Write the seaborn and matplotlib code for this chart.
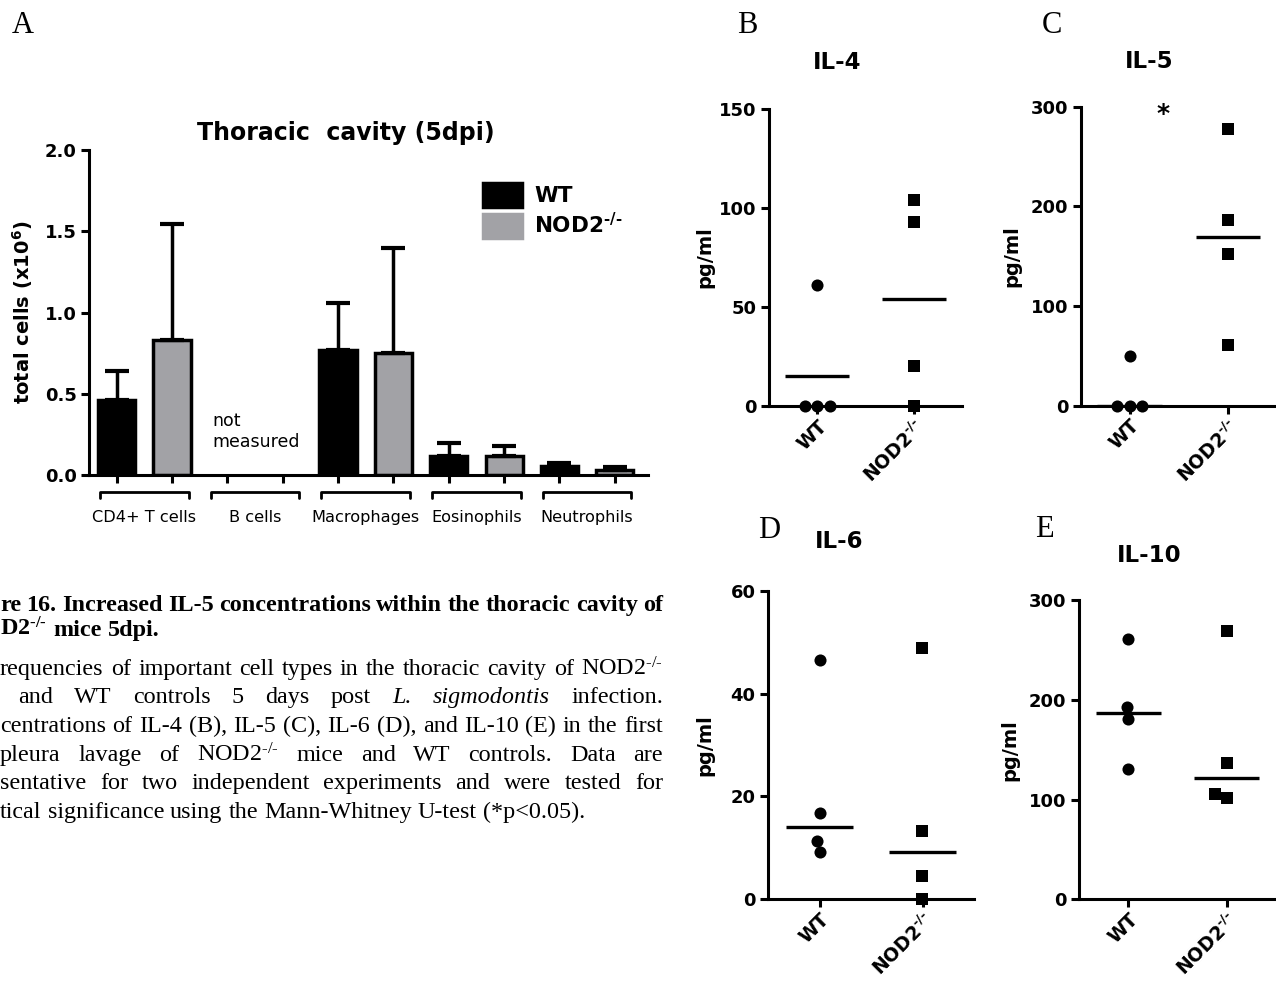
#!/usr/bin/env python3
"""Thoracic cavity cell counts and pleural cytokines, WT vs NOD2-/- mice at 5 dpi."""

import matplotlib
matplotlib.use("Agg")
import matplotlib.pyplot as plt
import matplotlib.transforms as mtransforms
from matplotlib.ticker import FormatStrFormatter
import numpy as np
import pandas as pd
import seaborn as sns

# panel A: total cells (x10^6), mean and SD; B cells were not measured
cell_types = ["CD4+ T cells", "B cells", "Macrophages", "Eosinophils", "Neutrophils"]
measured_types = ["CD4+ T cells", "Macrophages", "Eosinophils", "Neutrophils"]
groups = ["WT", "NOD2"]
wt_mean = [0.46, 0.77, 0.12, 0.055]
wt_sd = [0.18, 0.29, 0.075, 0.018]
ko_mean = [0.83, 0.75, 0.12, 0.03]
ko_sd = [0.715, 0.65, 0.06, 0.02]

# panels B-E: cytokines in the first pleura lavage (pg/ml), one value per mouse
il4_wt = [61, 0, 0, 0]
il4_ko = [104, 93, 20, 0]
il4_lines = [15, 54]
il5_wt = [50, 0, 0, 0]
il5_ko = [278, 186, 152, 61]
il5_lines = [0, 169]
il6_wt = [46.5, 16.7, 11.4, 9.1]
il6_ko = [48.8, 13.2, 4.6, 0]
il6_lines = [14.1, 9.1]
il10_wt = [261, 193, 181, 131]
il10_ko = [269, 137, 102, 106]
il10_lines = [187, 122]

bar_colors = {"WT": "black", "NOD2": "#a2a2a6"}

# "-/-" as raised hyphens (a plain "-" in mathtext becomes a spaced minus)
KO = "NOD2$\\mathregular{^{\u2010/\u2010}}$"
group_labels = ["WT", KO]

caption = [
    ("re 16. Increased IL-5 concentrations within the thoracic cavity of", "bold", True),
    ("D2$\\mathregular{^{\u2010/\u2010}}$ mice 5dpi.", "bold", False),
    ("requencies of important cell types in the thoracic cavity of " + KO, "normal", True),
    ("and WT controls 5 days post L. sigmodontis infection.", "normal", True),
    ("centrations of IL-4 (B), IL-5 (C), IL-6 (D), and IL-10 (E) in the first", "normal", True),
    ("pleura lavage of " + KO + " mice and WT controls. Data are", "normal", True),
    ("sentative for two independent experiments and were tested for", "normal", True),
    ("tical significance using the Mann-Whitney U-test (*p<0.05).", "normal", False),
]
italic_words = {"L.", "sigmodontis"}

W, H = 1276, 986


def setup_style():
    sns.set_theme(style="ticks")
    plt.rcParams["font.family"] = ["DejaVu Sans"]
    plt.rcParams.update({
        "font.weight": "bold",
        "text.color": "black",
        "axes.edgecolor": "black",
        "axes.labelcolor": "black",
        "axes.linewidth": 2.2,
        "xtick.color": "black",
        "ytick.color": "black",
        "xtick.major.width": 2.2,
        "ytick.major.width": 2.2,
        "xtick.major.size": 5.5,
        "ytick.major.size": 5.5,
        "xtick.labelsize": 13,
        "ytick.labelsize": 13,
    })


fig = None


def box(left, top, right, bottom):
    return fig.add_axes([left / W, 1 - bottom / H, (right - left) / W, (bottom - top) / H])


def ftext(x, y, s, **kw):
    return fig.text(x / W, 1 - y / H, s, **kw)


def render_cells():
    ax = box(89.3, 150, 648, 475)
    bars = pd.DataFrame({
        "cell": measured_types * 2,
        "group": ["WT"] * len(wt_mean) + ["NOD2"] * len(ko_mean),
        "mean": wt_mean + ko_mean,
        "sd": wt_sd + ko_sd,
    })
    sns.barplot(
        data=bars, x="cell", y="mean", hue="group",
        order=cell_types, hue_order=groups,
        palette=bar_colors, saturation=1,
        errorbar=None, width=1.0, gap=0.33,
        edgecolor="black", linewidth=2.5, ax=ax,
    )

    # one-sided SD bars on top of each drawn bar
    xs, ys, es = [], [], []
    for p in ax.patches:
        if p.get_height() <= 0:
            continue
        cx = p.get_x() + p.get_width() / 2
        cell = cell_types[int(round(cx))]
        grp = "WT" if cx < round(cx) else "NOD2"
        row = bars[(bars["cell"] == cell) & (bars["group"] == grp)].iloc[0]
        xs.append(cx)
        ys.append(row["mean"])
        es.append(row["sd"])
    ax.errorbar(xs, ys, yerr=[np.zeros(len(es)), es], fmt="none", ecolor="black",
                elinewidth=2.5, capsize=8.5, capthick=3, zorder=1)

    centers = np.arange(len(cell_types))
    ax.set_xticks(np.sort(np.concatenate([centers - 0.25, centers + 0.25])))
    ax.set_xticklabels([])
    ax.set_xlim(-0.497, 4.55)
    ax.set_ylim(0, 2)
    ax.set_yticks([0, 0.5, 1.0, 1.5, 2.0])
    ax.yaxis.set_major_formatter(FormatStrFormatter("%.1f"))
    ax.set_xlabel("")
    ax.set_ylabel("")
    sns.despine(ax=ax)

    trans = mtransforms.blended_transform_factory(ax.transData, ax.transAxes)
    for i, name in enumerate(cell_types):
        ax.plot([i - 0.4, i - 0.4, i + 0.4, i + 0.4], [-0.072, -0.052, -0.052, -0.072],
                transform=trans, clip_on=False, color="black", lw=2)
        ax.text(i, -0.132, name, transform=trans, ha="center", va="center",
                fontsize=11.6, fontweight="normal")

    ax.text(0.612, 0.27, "not\nmeasured", ha="left", va="center", fontsize=12.5,
            fontweight="normal", linespacing=1.2)

    sns.move_legend(
        ax, "upper left", bbox_to_anchor=(483.3 / W, 1 - 183.3 / H),
        bbox_transform=fig.transFigure, title=None, frameon=False,
        fontsize=15.5, handlelength=1.8, handleheight=1.3, labelspacing=0.25,
        handletextpad=0.57, borderpad=0, borderaxespad=0,
    )
    leg = ax.get_legend()
    for txt, lab in zip(leg.get_texts(), group_labels):
        txt.set_text(lab)
        txt.set_fontweight("bold")
    for handle, grp in zip(leg.legend_handles, groups):
        handle.set_edgecolor(bar_colors[grp])

    ftext(346, 133, "Thoracic  cavity (5dpi)", ha="center", va="center", fontsize=17)
    ftext(23, 312.5, r"total cells (x10$\mathregular{^{6}}$)", ha="center", va="center",
          rotation=90, fontsize=14)


def render_cytokines():
    panels = [
        ("IL-4", il4_wt, il4_ko, il4_lines, 150, 50, (769, 109, 962, 406), (837, 62.7), 705),
        ("IL-5", il5_wt, il5_ko, il5_lines, 300, 100, (1080.7, 106.7, 1277, 405.7), (1149, 62), 1011.7),
        ("IL-6", il6_wt, il6_ko, il6_lines, 60, 20, (768, 590.7, 974, 899.3), (839, 541.7), 705),
        ("IL-10", il10_wt, il10_ko, il10_lines, 300, 100, (1079, 600, 1276, 899.3), (1149, 556), 1010),
    ]
    axes = {}
    for title, wt, ko, lines, top, step, rect, tpos, ylab_x in panels:
        ax = box(*rect)
        d = pd.DataFrame({"group": ["WT"] * len(wt) + ["NOD2"] * len(ko), "pg": wt + ko})
        for grp, marker in zip(groups, ["o", "s"]):
            sns.swarmplot(data=d[d["group"] == grp], x="group", y="pg", order=groups,
                          marker=marker, color="black", size=8.7, linewidth=0,
                          clip_on=False, zorder=4, ax=ax)
        pos = np.arange(len(groups))
        ax.hlines(lines, pos - 0.33, pos + 0.33, color="black", lw=2.4, zorder=3)
        ax.set_xlim(-0.5, 1.5)
        ax.set_ylim(0, top)
        ax.set_yticks(np.arange(0, top + 1, step))
        ax.set_xticks(pos, labels=group_labels, rotation=45, ha="right",
                      rotation_mode="anchor", fontsize=13.5)
        ax.tick_params(axis="x", pad=2)
        ax.set_xlabel("")
        ax.set_ylabel("")
        sns.despine(ax=ax)
        ftext(tpos[0], tpos[1], title, ha="center", va="center", fontsize=16.5)
        ftext(ylab_x, (rect[1] + rect[3]) / 2, "pg/ml", ha="center", va="center",
              rotation=90, fontsize=14)
        axes[title] = ax

    axes["IL-5"].text(0.34, 293, "*", ha="center", va="center", fontsize=18)


def render_caption():
    renderer = fig.canvas.get_renderer()
    baselines = [611, 636, 675, 703, 732, 761, 789, 818]
    size = 17.4
    right = 663
    for (text, weight, justify), y in zip(caption, baselines):
        x0 = 18 if text.startswith("and WT") else 0
        arts = []
        for word in text.split():
            style = "italic" if word in italic_words else "normal"
            arts.append(ftext(x0, y, word, family=["Liberation Serif", "DejaVu Serif"],
                              fontsize=size, fontweight=weight, fontstyle=style,
                              va="baseline", ha="left"))
        widths = [a.get_window_extent(renderer).width for a in arts]
        space = size * 100 / 72 * 0.25
        if justify and len(arts) > 1:
            space = max((right - x0 - sum(widths)) / (len(arts) - 1), 2)
        x = x0
        for a, w in zip(arts, widths):
            a.set_x(x / W)
            x += w + space


def render_letters():
    serif = ["Liberation Serif", "DejaVu Serif"]
    for letter, x, y in [("A", 12, 33), ("B", 737, 33), ("C", 1042, 33), ("D", 758, 538), ("E", 1035, 537)]:
        ftext(x, y, letter, family=serif, fontweight="normal", fontsize=22, ha="left", va="baseline")


def main():
    global fig
    setup_style()
    fig = plt.figure(figsize=(W / 100, H / 100), dpi=100)
    render_cells()
    render_cytokines()
    render_caption()
    render_letters()
    fig.savefig("out.png", dpi=100)
    plt.close(fig)


if __name__ == "__main__":
    main()
